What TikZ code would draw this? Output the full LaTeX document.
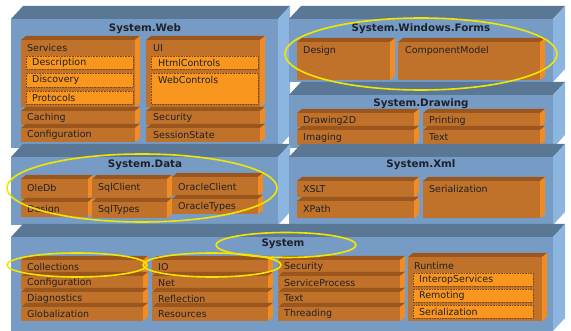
\documentclass[tikz,border=0pt]{standalone}
\usepackage{fontspec}
\setmainfont{DejaVu Sans}

\definecolor{layerfront}{HTML}{769CC6}
\definecolor{layertop}{HTML}{5A7896}
\definecolor{layerside}{HTML}{8CB6E0}
\definecolor{partfront}{HTML}{C0722A}
\definecolor{parttop}{HTML}{9A561C}
\definecolor{partside}{HTML}{F08C23}
\definecolor{subfill}{HTML}{F8961E}
\definecolor{subedge}{HTML}{7A4A1A}
\definecolor{inktext}{HTML}{1E2129}
\definecolor{ringyellow}{HTML}{F2E600}

% x1, y1, x2, y2 of the front face
\newcommand{\layerbox}[4]{%
  \fill[layerfront] (#1,#2) rectangle (#3,#4);
  \fill[layertop] (#1,#2) -- ++(12,-13) -- (#3+12,#2-13) -- (#3,#2) -- cycle;
  \fill[layerside] (#3,#2) -- (#3+12,#2-13) -- (#3+12,#4-13) -- (#3,#4) -- cycle;}
\newcommand{\partbox}[4]{%
  \fill[parttop] (#1,#2) -- ++(5,-4) -- (#3+5,#2-4) -- (#3,#2) -- cycle;
  \fill[partside] (#3,#2) -- (#3+5,#2-4) -- (#3+5,#4-4) -- (#3,#4) -- cycle;
  \fill[partfront] (#1,#2) rectangle (#3,#4);}
\newcommand{\subpart}[4]{%
  \filldraw[fill=subfill, draw=subedge, densely dotted, line width=0.6pt] (#1,#2) rectangle (#3,#4);}

\begin{document}
\begin{tikzpicture}[x=1pt, y=-1pt,
    title/.style={font=\bfseries\fontsize{10.3}{12}\selectfont, text=inktext, inner sep=0pt},
    item/.style={anchor=west, font=\fontsize{9.5}{11}\selectfont, text=inktext, inner sep=0pt},
    ring/.style={draw=ringyellow, line width=1.6pt}]
  \useasboundingbox (0,0) rectangle (571,331);

  % System.Web
  \layerbox{11}{19}{278}{148}
  \node[title] (webtitle) at (145,29) {System.Web};
  \partbox{21}{40}{135}{107}
  \node[item] (services) at (27,48) {Services};
  \subpart{26}{56}{133}{69}
  \node[item] (description) at (32,62.5) {Description};
  \subpart{26}{73}{133}{87}
  \node[item] (discovery) at (32,80) {Discovery};
  \subpart{26}{91}{133}{104}
  \node[item] (protocols) at (32,97.5) {Protocols};
  \partbox{21}{111}{135}{125}
  \node[item] (caching) at (27,118) {Caching};
  \partbox{21}{128}{135}{142}
  \node[item] (webconfig) at (27,135) {Configuration};
  \partbox{146}{40}{260}{107}
  \node[item] (ui) at (153,48) {UI};
  \subpart{151}{56}{258}{69}
  \node[item] (htmlcontrols) at (158,62.5) {HtmlControls};
  \subpart{151}{73}{258}{104}
  \node[item] (webcontrols) at (158,80) {WebControls};
  \partbox{146}{111}{260}{125}
  \node[item] (websecurity) at (153,118) {Security};
  \partbox{146}{128}{260}{142}
  \node[item] (sessionstate) at (153,135) {SessionState};

  % System.Windows.Forms
  \layerbox{289}{19}{553}{82}
  \node[title] (formstitle) at (421,29) {System.Windows.Forms};
  \partbox{297}{42}{390}{80}
  \node[item] (formsdesign) at (303,51) {Design};
  \partbox{398}{42}{540}{80}
  \node[item] (componentmodel) at (405,51) {ComponentModel};

  % System.Drawing
  \layerbox{289}{95}{553}{148}
  \node[title] (drawingtitle) at (421,104) {System.Drawing};
  \partbox{297}{113}{414}{127}
  \node[item] (drawing2d) at (303,120.5) {Drawing2D};
  \partbox{297}{130}{414}{145}
  \node[item] (imaging) at (303,137.5) {Imaging};
  \partbox{423}{113}{540}{127}
  \node[item] (printing) at (429,120.5) {Printing};
  \partbox{423}{130}{540}{145}
  \node[item] (drawingtext) at (429,137.5) {Text};

  % System.Data
  \layerbox{11}{157}{278}{225}
  \node[title] (datatitle) at (145,165) {System.Data};
  \partbox{21}{179}{88}{199}
  \node[item] (oledb) at (27,188) {OleDb};
  \partbox{21}{202}{88}{217}
  \node[item] (datadesign) at (27,210) {Design};
  \partbox{92}{179}{167}{199}
  \node[item] (sqlclient) at (98,188) {SqlClient};
  \partbox{92}{202}{167}{218}
  \node[item] (sqltypes) at (98,210) {SqlTypes};
  \partbox{172}{177}{258}{196}
  \node[item] (oracleclient) at (178,187) {OracleClient};
  \partbox{172}{199}{258}{214}
  \node[item] (oracletypes) at (178,207) {OracleTypes};

  % System.Xml
  \layerbox{289}{157}{553}{225}
  \node[title] (xmltitle) at (421,165) {System.Xml};
  \partbox{297}{181}{414}{197}
  \node[item] (xslt) at (303,189) {XSLT};
  \partbox{297}{201}{414}{218}
  \node[item] (xpath) at (303,209) {XPath};
  \partbox{423}{181}{540}{218}
  \node[item] (xmlserial) at (429,189) {Serialization};

  % System
  \layerbox{11}{237}{553}{331}
  \node[title] (systitle) at (283,244) {System};
  \partbox{21}{260}{143}{274}
  \node[item] (collections) at (27,267) {Collections};
  \partbox{21}{276}{143}{290}
  \node[item] (sysconfig) at (27,283) {Configuration};
  \partbox{21}{292}{143}{305}
  \node[item] (diagnostics) at (27,298.5) {Diagnostics};
  \partbox{21}{307}{143}{321}
  \node[item] (globalization) at (27,314) {Globalization};
  \partbox{152}{260}{268}{274}
  \node[item] (io) at (158,267) {IO};
  \partbox{152}{276}{268}{290}
  \node[item] (net) at (158,283) {Net};
  \partbox{152}{292}{268}{305}
  \node[item] (reflection) at (158,298.5) {Reflection};
  \partbox{152}{307}{268}{321}
  \node[item] (resources) at (158,314) {Resources};
  \partbox{278}{260}{400}{274}
  \node[item] (syssecurity) at (284,267) {Security};
  \partbox{278}{276}{400}{290}
  \node[item] (serviceprocess) at (284,283) {ServiceProcess};
  \partbox{278}{292}{400}{305}
  \node[item] (systext) at (284,298.5) {Text};
  \partbox{278}{307}{400}{321}
  \node[item] (threading) at (284,314) {Threading};
  \partbox{408}{257}{542}{321}
  \node[item] (runtime) at (414,266) {Runtime};
  \subpart{413}{273}{533}{286}
  \node[item] (interop) at (419,279.5) {InteropServices};
  \subpart{413}{289}{533}{302}
  \node[item] (remoting) at (419,295.5) {Remoting};
  \subpart{413}{305}{533}{318}
  \node[item] (runserial) at (419,311.5) {Serialization};

  % highlights
  \draw[ring] (421,54) ellipse [x radius=136, y radius=36];
  \draw[ring] (142,188) ellipse [x radius=135, y radius=34];
  \draw[ring] (286,245) ellipse [x radius=70, y radius=12.5];
  \draw[ring] (77,265) ellipse [x radius=70, y radius=12];
  \draw[ring] (212,265) ellipse [x radius=69, y radius=12];
\end{tikzpicture}
\end{document}
